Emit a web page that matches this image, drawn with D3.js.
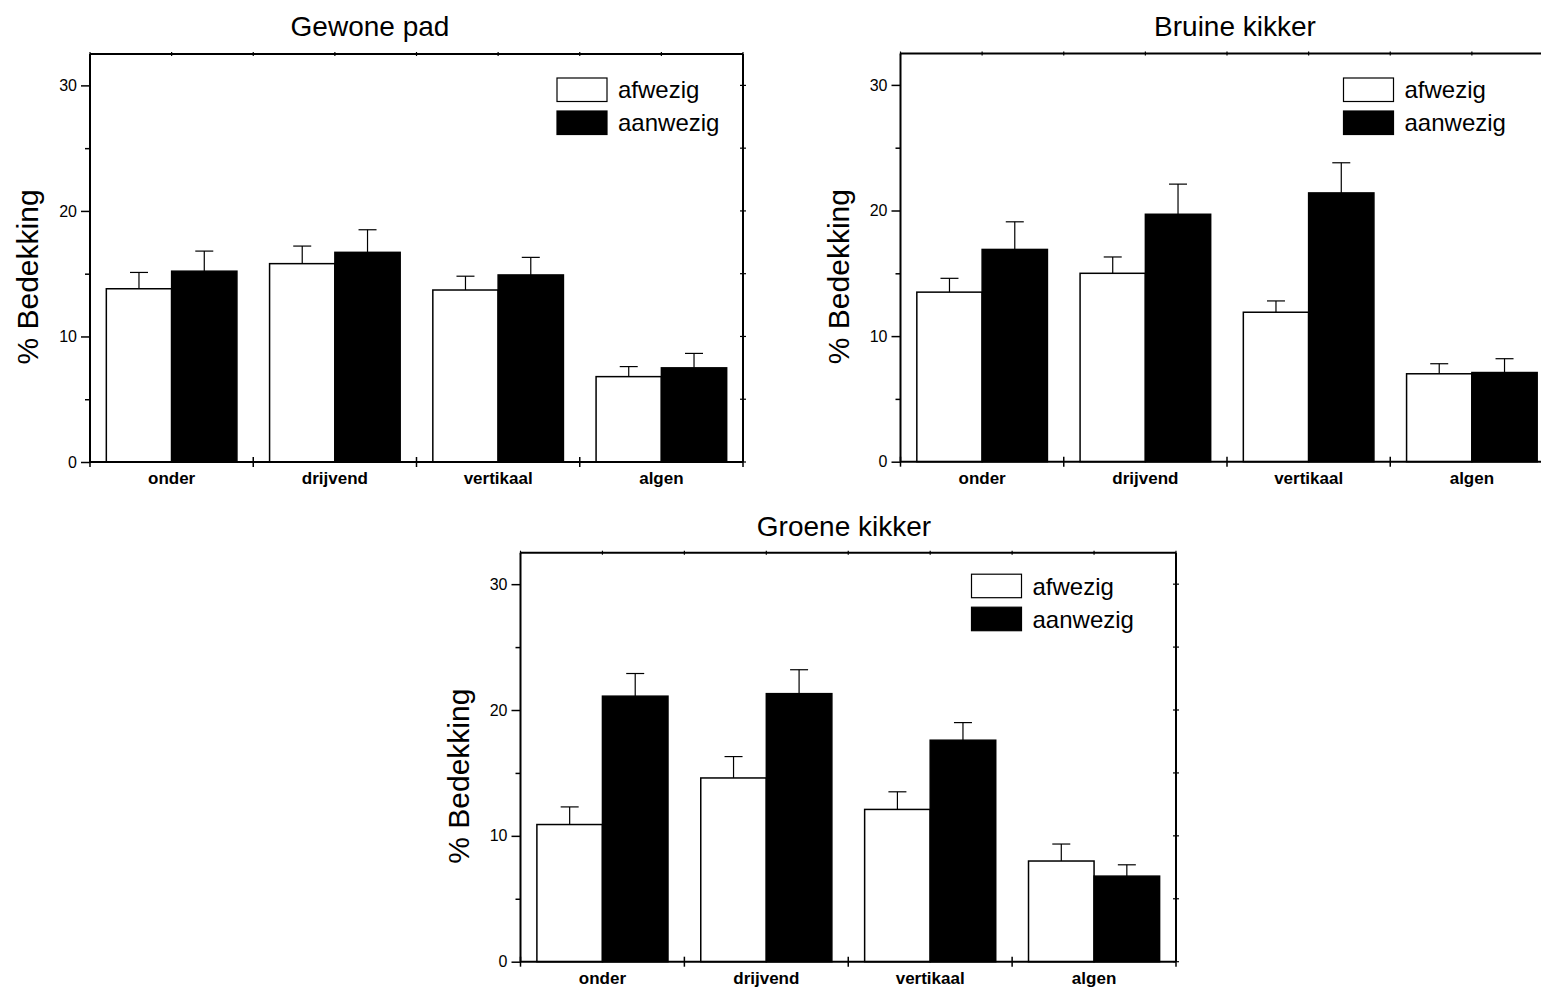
<!DOCTYPE html>
<html>
<head>
<meta charset="utf-8">
<script src="https://cdn.jsdelivr.net/npm/d3@7"></script>
<style>
  html, body { margin: 0; padding: 0; background: #fff; }
  svg { display: block; }
  text { font-family: "Liberation Sans", Arial, sans-serif; fill: #000; }
</style>
</head>
<body>
<script>
// ---------- data ----------
const categories = ["onder", "drijvend", "vertikaal", "algen"];
const seriesNames = ["afwezig", "aanwezig"];
const panelTitles = ["Gewone pad", "Bruine kikker", "Groene kikker"];
const yAxisLabel = "% Bedekking";
const yTickValues = [0, 10, 20, 30];
const yMinorTickValues = [5, 15, 25];

const gewonePadAfwezig = [13.8, 15.8, 13.7, 6.8];
const gewonePadAfwezigErr = [1.3, 1.4, 1.1, 0.8];
const gewonePadAanwezig = [15.2, 16.7, 14.9, 7.5];
const gewonePadAanwezigErr = [1.6, 1.8, 1.4, 1.15];

const bruineKikkerAfwezig = [13.5, 15.0, 11.9, 7.0];
const bruineKikkerAfwezigErr = [1.1, 1.3, 0.9, 0.8];
const bruineKikkerAanwezig = [16.9, 19.7, 21.4, 7.1];
const bruineKikkerAanwezigErr = [2.2, 2.4, 2.4, 1.1];

const groeneKikkerAfwezig = [10.9, 14.6, 12.1, 8.0];
const groeneKikkerAfwezigErr = [1.4, 1.7, 1.4, 1.35];
const groeneKikkerAanwezig = [21.1, 21.3, 17.6, 6.8];
const groeneKikkerAanwezigErr = [1.8, 1.9, 1.4, 0.9];

// ---------- layout ----------
const W = 1541, H = 989;
const panels = [
  { title: panelTitles[0], left: 90, right: 743, top: 54, bottom: 462, titleX: 370, titleY: 36, legendDX: 467, legendDY: 24,
    values: [gewonePadAfwezig, gewonePadAanwezig], errs: [gewonePadAfwezigErr, gewonePadAanwezigErr] },
  { title: panelTitles[1], left: 900.5, right: 1553.5, top: 53.5, bottom: 461.7, titleX: 1235, titleY: 36, legendDX: 443, legendDY: 24.5,
    values: [bruineKikkerAfwezig, bruineKikkerAanwezig], errs: [bruineKikkerAfwezigErr, bruineKikkerAanwezigErr] },
  { title: panelTitles[2], left: 520.5, right: 1176, top: 552.7, bottom: 961.7, titleX: 844, titleY: 536, legendDX: 451, legendDY: 21.5,
    values: [groeneKikkerAfwezig, groeneKikkerAanwezig], errs: [groeneKikkerAfwezigErr, groeneKikkerAanwezigErr] }
];
const fills = ["#ffffff", "#000000"];

const svg = d3.select("body").append("svg")
  .attr("width", W).attr("height", H)
  .attr("viewBox", `0 0 ${W} ${H}`);
svg.append("rect").attr("width", W).attr("height", H).attr("fill", "#fff");

panels.forEach(p => {
  const g = svg.append("g");
  const y = d3.scaleLinear().domain([0, 32.5]).range([p.bottom, p.top]);
  const x = d3.scaleBand().domain(categories).range([p.left, p.right])
    .paddingInner(0.2).paddingOuter(0.1);
  const xs = d3.scaleBand().domain(seriesNames).range([0, x.bandwidth()]);
  const step = x.step();
  const x0 = p.left;

  // bars
  seriesNames.forEach((s, si) => {
    const rows = categories.map((c, i) => ({ c, v: p.values[si][i], e: p.errs[si][i] }));
    // error bars (upper only)
    const eg = g.append("g");
    eg.selectAll("line.v").data(rows).join("line")
      .attr("x1", d => x(d.c) + xs(s) + xs.bandwidth() / 2)
      .attr("x2", d => x(d.c) + xs(s) + xs.bandwidth() / 2)
      .attr("y1", d => y(d.v)).attr("y2", d => y(d.v + d.e))
      .attr("stroke", "#000").attr("stroke-width", 1.2);
    eg.selectAll("line.c").data(rows).join("line")
      .attr("x1", d => x(d.c) + xs(s) + xs.bandwidth() / 2 - 9)
      .attr("x2", d => x(d.c) + xs(s) + xs.bandwidth() / 2 + 9)
      .attr("y1", d => y(d.v + d.e)).attr("y2", d => y(d.v + d.e))
      .attr("stroke", "#000").attr("stroke-width", 1.2);
    g.append("g").selectAll("rect").data(rows).join("rect")
      .attr("x", d => x(d.c) + xs(s))
      .attr("y", d => y(d.v))
      .attr("width", xs.bandwidth())
      .attr("height", d => y(0) - y(d.v))
      .attr("fill", fills[si])
      .attr("stroke", "#000").attr("stroke-width", 1.5);
  });

  // frame
  const frame = g.append("g").attr("stroke", "#000").attr("stroke-width", 2).attr("fill", "none");
  frame.append("line").attr("x1", p.left).attr("x2", p.right).attr("y1", p.top).attr("y2", p.top);
  frame.append("line").attr("x1", p.right).attr("x2", p.right).attr("y1", p.top).attr("y2", p.bottom);
  frame.append("line").attr("x1", p.left).attr("x2", p.left).attr("y1", p.top).attr("y2", p.bottom);
  frame.append("line").attr("x1", p.left).attr("x2", p.right).attr("y1", p.bottom).attr("y2", p.bottom);

  // left axis: major ticks + labels
  const ya = g.append("g").attr("transform", `translate(${p.left},0)`)
    .call(d3.axisLeft(y).tickValues(yTickValues).tickSize(9).tickPadding(4).tickSizeOuter(0));
  ya.select(".domain").remove();
  ya.selectAll(".tick line").attr("stroke", "#000").attr("stroke-width", 1.5);
  ya.selectAll(".tick text").attr("font-size", 16).attr("font-family", "Liberation Sans, Arial, sans-serif");
  // left minor ticks
  const ym = g.append("g").attr("transform", `translate(${p.left},0)`)
    .call(d3.axisLeft(y).tickValues(yMinorTickValues).tickSize(5).tickFormat(""));
  ym.select(".domain").remove();
  ym.selectAll(".tick line").attr("stroke", "#000").attr("stroke-width", 1.5);

  // right frame ticks (crossing)
  const rightTicks = yTickValues.concat(yMinorTickValues);
  g.append("g").selectAll("line").data(rightTicks).join("line")
    .attr("x1", p.right - 3).attr("x2", p.right + 3)
    .attr("y1", d => y(d)).attr("y2", d => y(d))
    .attr("stroke", "#000").attr("stroke-width", 1.2);

  // bottom: category labels
  const xa = g.append("g").attr("transform", `translate(0,${p.bottom})`)
    .call(d3.axisBottom(x).tickSize(0).tickPadding(10));
  xa.select(".domain").remove();
  xa.selectAll(".tick text").attr("font-size", 17).attr("font-weight", "bold")
    .attr("font-family", "Liberation Sans, Arial, sans-serif");

  // bottom boundary ticks (crossing)
  const bounds = d3.range(categories.length + 1).map(i => x0 + i * step);
  g.append("g").selectAll("line").data(bounds).join("line")
    .attr("x1", d => d).attr("x2", d => d)
    .attr("y1", p.bottom - 5).attr("y2", p.bottom + 5)
    .attr("stroke", "#000").attr("stroke-width", 1.5);

  // top ticks at boundaries and centers
  const topTicks = bounds.concat(categories.map(c => x(c) + x.bandwidth() / 2));
  g.append("g").selectAll("line").data(topTicks).join("line")
    .attr("x1", d => d).attr("x2", d => d)
    .attr("y1", p.top - 2).attr("y2", p.top + 2)
    .attr("stroke", "#000").attr("stroke-width", 1.2);

  // y label
  g.append("text")
    .attr("transform", `translate(${p.left - 52},${(p.top + p.bottom) / 2 + 19}) rotate(-90)`)
    .attr("text-anchor", "middle")
    .attr("font-size", 30)
    .text(yAxisLabel);

  // title
  g.append("text").attr("x", p.titleX).attr("y", p.titleY)
    .attr("text-anchor", "middle").attr("font-size", 28).text(p.title);

  // legend
  const lg = g.append("g").attr("transform", `translate(${p.left + p.legendDX},${p.top + p.legendDY})`);
  seriesNames.forEach((s, si) => {
    lg.append("rect").attr("x", 0).attr("y", si * 33).attr("width", 50).attr("height", 23.5)
      .attr("fill", fills[si]).attr("stroke", "#000").attr("stroke-width", 1.2);
    lg.append("text").attr("x", 61).attr("y", si * 33 + 12).attr("dy", "0.35em")
      .attr("font-size", 24).text(s);
  });
});
</script>
</body>
</html>
